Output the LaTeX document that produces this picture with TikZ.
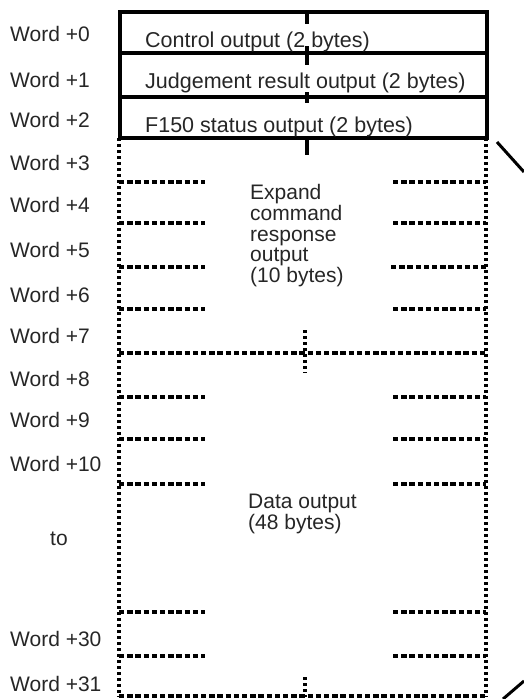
\documentclass[tikz,border=0pt]{standalone}
\usepackage{fontspec}
\setmainfont{Liberation Sans}
\usetikzlibrary{positioning}

\begin{document}
\begin{tikzpicture}[
    x=1pt, y=-1pt,
    wordlabel/.style={anchor=base west, inner sep=0pt, text=black!85,
        font=\fontsize{21pt}{21pt}\selectfont},
    field/.style={anchor=base west, inner sep=0pt, text=black!85,
        font=\fontsize{21.5pt}{21pt}\selectfont},
    block/.style={anchor=north west, inner sep=0pt, align=left, text=black!85,
        font=\fontsize{21pt}{20.8pt}\selectfont},
    frame/.style={line width=3.2pt},
    dotframe/.style={line width=3.6pt, dash pattern=on 3.4pt off 2.6pt},
    split/.style={line width=3.2pt, dash pattern=on 5.4pt off 2.8pt},
    tick/.style={line width=3.2pt},
    cut/.style={line width=3pt}
]
\useasboundingbox (0,0) rectangle (524,699);

% Solid block: words +0 to +2
\coordinate (topnw) at (120,12);
\coordinate (topse) at (487,138);
\draw[frame] (topnw) rectangle (topse);
\draw[frame] (120,53) -- (487,53);
\draw[frame] (120,97) -- (487,97);

\node[field] (ctrl) at (145,47) {Control output (2 bytes)};
\node[field] (judge) at (145,88) {Judgement result output (2 bytes)};
\node[field] (status) at (145,132) {F150 status output (2 bytes)};

% Centre marks
\draw[tick] (307,12) -- (307,24);
\draw[tick] (307,46) -- (307,65);
\draw[tick] (307,92) -- (307,103);
\draw[tick] (307,138) -- (307,155);

% Dotted block: words +3 to +31
\coordinate (dotnw) at (119,138);
\coordinate (dotse) at (486,697);
\draw[dotframe] (dotnw) -- (119,697);
\draw[dotframe] (486,138) -- (dotse);
\draw[split] (119,696) -- (486,696);
\draw[split] (119,353) -- (486,353);
\draw[dotframe] (305,330) -- (305,373);
\draw[dotframe] (305,677) -- (305,697);

% Word boundaries (partial)
\draw[split] (119,182) -- (205,182) (393,182) -- (486,182);
\draw[split] (119,223) -- (205,223) (393,223) -- (486,223);
\draw[split] (119,267) -- (205,267) (391,267) -- (486,267);
\draw[split] (119,309) -- (205,309) (393,309) -- (486,309);
\draw[split] (119,397) -- (205,397) (393,397) -- (486,397);
\draw[split] (119,439) -- (205,439) (393,439) -- (486,439);
\draw[split] (119,484) -- (205,484) (393,484) -- (486,484);
\draw[split] (119,612) -- (205,612) (393,612) -- (486,612);
\draw[split] (119,656) -- (205,656) (393,656) -- (486,656);

\node[block] (expand) at (250,184) {Expand\\command\\response\\output\\(10 bytes)};
\node[block] (data) at (248,494) {Data output\\(48 bytes)};

% Break lines on the right
\draw[cut] (497,142) -- (524,172);
\draw[cut] (503,699) -- (524,681);

% Word offsets
\node[wordlabel] (w0) at (10,41) {Word +0};
\node[wordlabel] (w1) at (10,87) {Word +1};
\node[wordlabel] (w2) at (10,127) {Word +2};
\node[wordlabel] (w3) at (10,170) {Word +3};
\node[wordlabel] (w4) at (10,212) {Word +4};
\node[wordlabel] (w5) at (10,257) {Word +5};
\node[wordlabel] (w6) at (10,302) {Word +6};
\node[wordlabel] (w7) at (10,343) {Word +7};
\node[wordlabel] (w8) at (10,386) {Word +8};
\node[wordlabel] (w9) at (10,427) {Word +9};
\node[wordlabel] (w10) at (10,471) {Word +10};
\node[wordlabel] (to) at (50,545) {to};
\node[wordlabel] (w30) at (10,646) {Word +30};
\node[wordlabel] (w31) at (10,691) {Word +31};

\end{tikzpicture}
\end{document}
